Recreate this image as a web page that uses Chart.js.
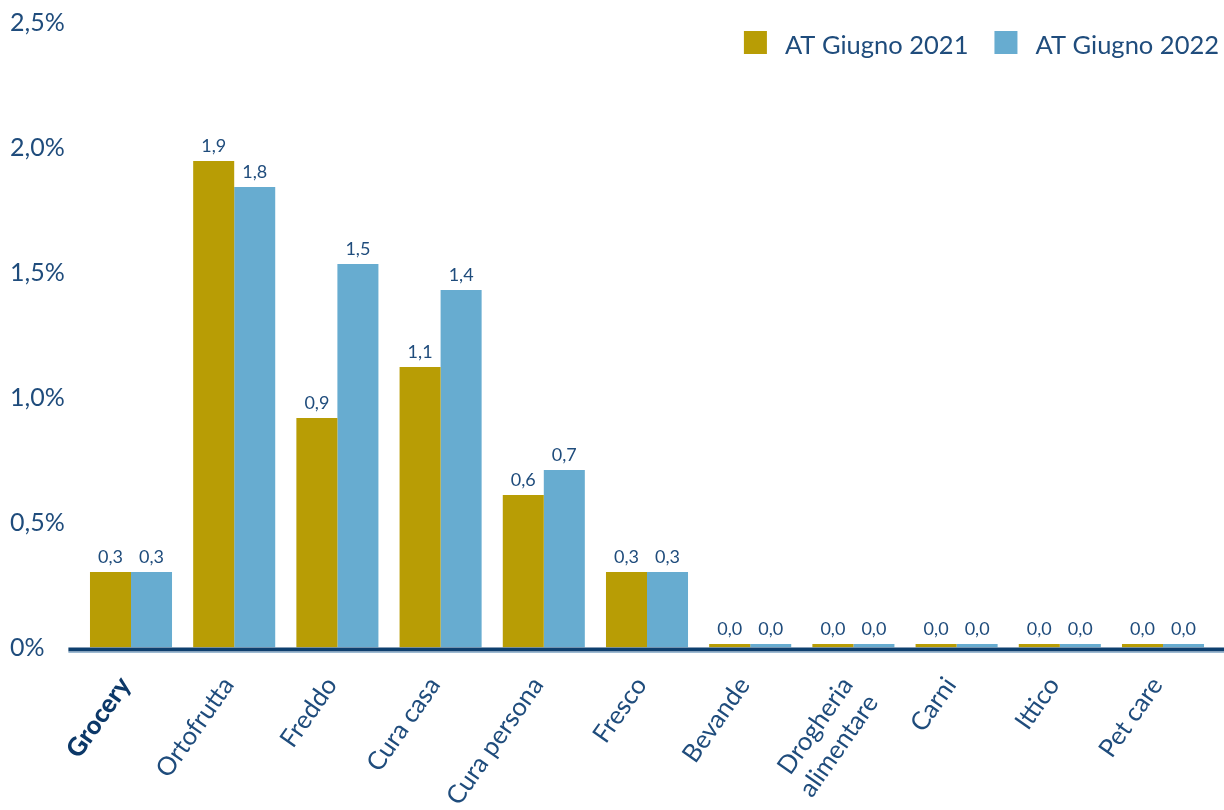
<!DOCTYPE html>
<html lang="it">
<head>
<meta charset="UTF-8">
<title>AT Giugno 2021 vs 2022</title>
<script src="https://cdn.jsdelivr.net/npm/chart.js@4.4.1/dist/chart.umd.min.js"></script>
<style>
  html, body { margin: 0; padding: 0; background: #fff; }
  #wrap { width: 1224px; height: 810px; position: relative; }
</style>
</head>
<body>
<div id="wrap"><canvas id="chart"></canvas></div>
<script>
// categorie e valori (%)
const categories = ['Grocery', 'Ortofrutta', 'Freddo', 'Cura casa', 'Cura persona', 'Fresco',
  'Bevande', ['Drogheria', 'alimentare'], 'Carni', 'Ittico', 'Pet care'];
const giugno2021 = [0.302, 1.946, 0.918, 1.122, 0.61, 0.302, 0.014, 0.014, 0.014, 0.014, 0.014];
const giugno2022 = [0.302, 1.842, 1.534, 1.43, 0.71, 0.302, 0.014, 0.014, 0.014, 0.014, 0.014];
const yTicks = [0, 0.5, 1.0, 1.5, 2.0, 2.5];
const seriesNames = ['AT Giugno 2021', 'AT Giugno 2022'];

const GOLD = '#b89d05';
const BLUE = '#67acd0';
const NAVY = '#1f4c7c';
const FONT = 'Lato, "Open Sans", sans-serif';

function fmt(v) {
  return v.toFixed(1).replace('.', ',');
}

// etichette sopra le barre
const barLabels = {
  id: 'barLabels',
  afterDatasetsDraw(chart) {
    const ctx = chart.ctx;
    ctx.save();
    ctx.font = '18px ' + FONT;
    ctx.fillStyle = NAVY;
    ctx.textAlign = 'center';
    ctx.textBaseline = 'alphabetic';
    chart.data.datasets.forEach((ds, i) => {
      chart.getDatasetMeta(i).data.forEach((bar, j) => {
        ctx.fillText(fmt(ds.data[j]), bar.x, bar.y - 9);
      });
    });
    ctx.restore();
  }
};

// linea di base spessa sotto le barre
const baseLine = {
  id: 'baseLine',
  afterDatasetsDraw(chart) {
    const ctx = chart.ctx;
    const y0 = chart.scales.y.getPixelForValue(0);
    const x0 = chart.chartArea.left - 11;
    ctx.save();
    ctx.fillStyle = '#0e3f6e';
    ctx.fillRect(x0, y0, chart.width - x0, 4);
    ctx.fillStyle = '#86a8c6';
    ctx.fillRect(x0, y0 + 4, chart.width - x0, 1.3);
    ctx.restore();
  }
};

// legenda in alto a destra, dentro l'area del grafico
const topLegend = {
  id: 'topLegend',
  afterDraw(chart) {
    const ctx = chart.ctx;
    ctx.save();
    ctx.font = '25.5px ' + FONT;
    ctx.textBaseline = 'alphabetic';
    ctx.textAlign = 'left';
    const box = 23, gap = 18, itemGap = 26;
    const widths = chart.data.datasets.map(ds => ctx.measureText(ds.label).width);
    let total = 0;
    widths.forEach((w, i) => { total += box + gap + w + (i ? itemGap : 0); });
    let x = chart.width - 5 - total;
    chart.data.datasets.forEach((ds, i) => {
      if (i) x += itemGap;
      ctx.fillStyle = ds.backgroundColor;
      ctx.fillRect(x, 31, box, box);
      x += box + gap;
      ctx.fillStyle = NAVY;
      ctx.fillText(ds.label, x, 54);
      x += widths[i];
    });
    ctx.restore();
  }
};

function draw() {
  new Chart(document.getElementById('chart'), {
    type: 'bar',
    data: {
      labels: categories,
      datasets: [
        { label: seriesNames[0], data: giugno2021, backgroundColor: GOLD },
        { label: seriesNames[1], data: giugno2022, backgroundColor: BLUE }
      ]
    },
    options: {
      responsive: true,
      maintainAspectRatio: false,
      animation: false,
      datasets: { bar: { categoryPercentage: 0.795, barPercentage: 1.0 } },
      layout: { padding: { left: 10, right: 9.4, top: 22.5, bottom: 0 } },
      plugins: {
        legend: { display: false },
        tooltip: { enabled: false }
      },
      scales: {
        x: {
          grid: { display: false, drawTicks: false },
          border: { display: false },
          ticks: {
            autoSkip: false,
            minRotation: 55,
            maxRotation: 55,
            padding: 24,
            labelOffset: -6,
            color: ctx => ctx.index === 0 ? '#0c3868' : NAVY,
            font: ctx => ctx.index === 0
              ? { family: FONT, size: 25.5, weight: '900' }
              : { family: FONT, size: 25.5, weight: 'normal' }
          },
          afterFit(scale) { scale.height = 162.5; }
        },
        y: {
          min: 0,
          max: 2.5,
          grid: { display: false, drawTicks: false },
          border: { display: false },
          afterBuildTicks(scale) { scale.ticks = yTicks.map(v => ({ value: v })); },
          ticks: {
            crossAlign: 'far',
            color: NAVY,
            font: { family: FONT, size: 25 },
            callback: v => v === 0 ? '0%' : fmt(v) + '%'
          },
          afterFit(scale) { scale.width = 69.4; }
        }
      }
    },
    plugins: [barLabels, baseLine, topLegend]
  });
}

if (document.fonts && document.fonts.load) {
  Promise.all([document.fonts.load('24px Lato'), document.fonts.load('900 24px Lato')])
    .then(draw, draw);
} else {
  draw();
}
</script>
</body>
</html>
